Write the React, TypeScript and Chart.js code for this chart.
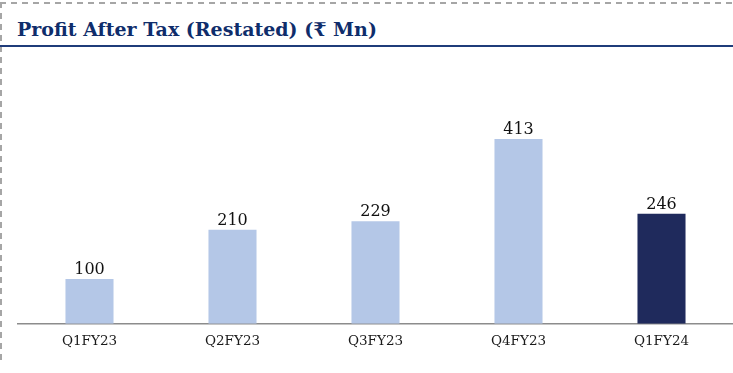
import React, { useEffect, useRef } from "react";
import { Chart, registerables } from "chart.js";

Chart.register(...registerables);

const categories = ["Q1FY23", "Q2FY23", "Q3FY23", "Q4FY23", "Q1FY24"];
const profitValues = [100, 210, 229, 413, 246];
const barColors = ["#B4C7E7", "#B4C7E7", "#B4C7E7", "#B4C7E7", "#1F2A5C"];
const titleText = "Profit After Tax (Restated) (₹ Mn)";

const valueLabelPlugin = {
  id: "valueLabels",
  afterDatasetsDraw(chart: any) {
    const ctx = chart.ctx;
    const meta = chart.getDatasetMeta(0);
    ctx.save();
    ctx.font = "16px 'DejaVu Serif'";
    ctx.fillStyle = "#111111";
    ctx.textAlign = "center";
    ctx.textBaseline = "alphabetic";
    meta.data.forEach((bar: any, i: number) => {
      ctx.fillText(String(profitValues[i]), bar.x, bar.y - 5);
    });
    ctx.restore();
  },
};

export default function App() {
  const canvasRef = useRef<HTMLCanvasElement | null>(null);

  useEffect(() => {
    if (!canvasRef.current) return;
    const chart = new Chart(canvasRef.current, {
      type: "bar",
      data: {
        labels: categories,
        datasets: [
          {
            data: profitValues,
            backgroundColor: barColors,
            borderWidth: 0,
            categoryPercentage: 1,
            barPercentage: 0.336,
          },
        ],
      },
      options: {
        animation: false,
        responsive: false,
        maintainAspectRatio: false,
        layout: { padding: { left: 18, right: 0, top: 100, bottom: 13 } },
        plugins: { legend: { display: false }, tooltip: { enabled: false } },
        scales: {
          x: {
            grid: { display: false, drawTicks: false },
            border: { display: true, color: "#8C8C8C", width: 1.5 },
            ticks: {
              color: "#1A1A1A",
              font: { family: "'DejaVu Serif'", size: 13.5 },
              padding: 10,
            },
          },
          y: {
            display: false,
            min: 0,
            max: 500,
          },
        },
      },
      plugins: [valueLabelPlugin],
    });
    return () => chart.destroy();
  }, []);

  return (
    <div
      style={{
        position: "fixed",
        left: 0,
        top: 0,
        width: 733,
        height: 373,
        background: "#ffffff",
        overflow: "hidden",
      }}
    >
      <div
        style={{
          position: "absolute",
          left: 0,
          top: 2,
          width: 733,
          height: 2,
          background:
            "repeating-linear-gradient(to right, #A6A6A6 0px, #A6A6A6 6px, transparent 6px, transparent 11px)",
        }}
      />
      <div
        style={{
          position: "absolute",
          left: 0,
          top: 2,
          width: 2,
          height: 358,
          background:
            "repeating-linear-gradient(to bottom, #A6A6A6 0px, #A6A6A6 6px, transparent 6px, transparent 11px)",
        }}
      />
      <div
        style={{
          position: "absolute",
          left: 17,
          top: 16,
          fontFamily: "'DejaVu Serif'",
          fontWeight: "bold",
          fontSize: 19,
          color: "#0F2D6B",
          whiteSpace: "nowrap",
          lineHeight: "26px",
        }}
      >
        {titleText}
      </div>
      <div
        style={{
          position: "absolute",
          left: 0,
          top: 45,
          width: 733,
          height: 2,
          background: "#1F3C7A",
        }}
      />
      <canvas
        ref={canvasRef}
        width={733}
        height={373}
        style={{ position: "absolute", left: 0, top: 0 }}
      />
    </div>
  );
}
